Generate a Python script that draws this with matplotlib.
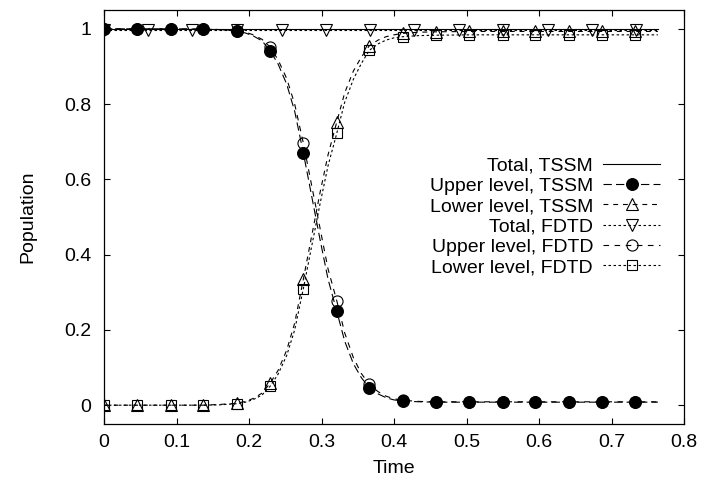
import numpy as np
import matplotlib
matplotlib.use("Agg")
import matplotlib.pyplot as plt
from matplotlib.ticker import FuncFormatter, MultipleLocator

# ---------------- data ----------------
t_line = [0.0, 0.046, 0.092, 0.137, 0.160, 0.183, 0.195, 0.206, 0.218, 0.229,
          0.240, 0.252, 0.263, 0.275, 0.286, 0.298, 0.309, 0.321, 0.332, 0.344,
          0.355, 0.366, 0.378, 0.389, 0.400, 0.412, 0.435, 0.458, 0.504, 0.550,
          0.595, 0.641, 0.687, 0.733, 0.764]

t_marks = [0.0, 0.046, 0.092, 0.137, 0.183, 0.229, 0.275, 0.321, 0.366, 0.412,
           0.458, 0.504, 0.550, 0.595, 0.641, 0.687, 0.733]

upper_tssm = [1.000, 1.000, 1.000, 0.999, 0.998, 0.994, 0.989, 0.981, 0.968, 0.942,
              0.907, 0.853, 0.781, 0.670, 0.560, 0.440, 0.335, 0.250, 0.170, 0.110,
              0.073, 0.046, 0.030, 0.020, 0.014, 0.011, 0.009, 0.008, 0.008, 0.008,
              0.008, 0.008, 0.008, 0.008, 0.008]

lower_tssm = [0.000, 0.000, 0.000, 0.000, 0.002, 0.005, 0.010, 0.018, 0.032, 0.058,
              0.092, 0.146, 0.218, 0.335, 0.445, 0.565, 0.665, 0.752, 0.830, 0.888,
              0.925, 0.955, 0.970, 0.979, 0.984, 0.988, 0.991, 0.992, 0.993, 0.993,
              0.993, 0.993, 0.993, 0.993, 0.993]

upper_fdtd = [1.000, 1.000, 1.000, 0.999, 0.998, 0.995, 0.991, 0.984, 0.972, 0.952,
              0.918, 0.868, 0.800, 0.696, 0.588, 0.470, 0.362, 0.278, 0.192, 0.126,
              0.084, 0.055, 0.036, 0.024, 0.017, 0.013, 0.010, 0.009, 0.009, 0.009,
              0.009, 0.009, 0.009, 0.009, 0.009]

lower_fdtd = [0.000, 0.000, 0.000, 0.000, 0.001, 0.004, 0.008, 0.015, 0.027, 0.050,
              0.082, 0.132, 0.200, 0.310, 0.418, 0.535, 0.636, 0.722, 0.805, 0.866,
              0.908, 0.943, 0.960, 0.970, 0.976, 0.979, 0.982, 0.983, 0.984, 0.984,
              0.984, 0.984, 0.984, 0.984, 0.984]

t_total = [0.0, 0.764]
total_tssm = [1.000, 1.000]

t_total_fdtd = [0.0, 0.061, 0.122, 0.184, 0.245, 0.306, 0.367, 0.428, 0.489,
                0.551, 0.612, 0.673, 0.734, 0.764]
total_fdtd = [0.997] * 14
total_fdtd_marks = list(range(13))

x_ticks = [0, 0.1, 0.2, 0.3, 0.4, 0.5, 0.6, 0.7, 0.8]
y_ticks = [0, 0.2, 0.4, 0.6, 0.8, 1.0]

labels = ["Total, TSSM", "Upper level, TSSM", "Lower level, TSSM",
          "Total, FDTD", "Upper level, FDTD", "Lower level, FDTD"]

# ---------------- plot ----------------
plt.rcParams['font.family'] = ['Liberation Sans', 'DejaVu Sans']
plt.rcParams['lines.scale_dashes'] = False
FS = 14

fig = plt.figure(figsize=(7.04, 4.86), dpi=100)
ax = fig.add_axes([104/704, 1-424/486, 580/704, 414/486])

mark_idx = [i for i, t in enumerate(t_line) if t in t_marks]
lw = 0.8
mew = 0.8

ax.plot(t_total, total_tssm, color='black', lw=lw, label=labels[0])
ax.plot(t_line, upper_tssm, color='black', lw=lw, dashes=(6, 3),
        marker='o', ms=8.5, mfc='black', mec='black', mew=mew,
        markevery=mark_idx, label=labels[1])
ax.plot(t_line, lower_tssm, color='black', lw=lw, dashes=(3.5, 3.5),
        marker='^', ms=9, mfc='none', mec='black', mew=mew,
        markevery=mark_idx, label=labels[2])
ax.plot(t_total_fdtd, total_fdtd, color='black', lw=lw, dashes=(1.8, 1.8),
        marker='v', ms=9, mfc='none', mec='black', mew=mew,
        markevery=total_fdtd_marks, label=labels[3])
ax.plot(t_line, upper_fdtd, color='black', lw=lw, dashes=(4, 4),
        marker='o', ms=8, mfc='none', mec='black', mew=mew,
        markevery=mark_idx, label=labels[4])
ax.plot(t_line, lower_fdtd, color='black', lw=lw, dashes=(1.8, 1.8),
        marker='s', ms=7, mfc='none', mec='black', mew=mew,
        markevery=mark_idx, label=labels[5])

ax.set_xlim(0, 0.8)
ax.set_ylim(-0.05, 1.05)
ax.set_xticks(x_ticks)
ax.set_yticks(y_ticks)
fmt = FuncFormatter(lambda v, p: '%g' % round(v, 6))
ax.xaxis.set_major_formatter(fmt)
ax.yaxis.set_major_formatter(fmt)
ax.tick_params(direction='in', length=4.5, width=0.8, top=True, right=True,
               labelsize=FS)
ax.tick_params(axis='x', pad=7.5)
ax.tick_params(axis='y', pad=9)
for s in ax.spines.values():
    s.set_linewidth(0.9)

ax.set_xlabel('Time', fontsize=FS, labelpad=6.5)
ax.set_ylabel('Population', fontsize=FS, labelpad=20)

leg = ax.legend(loc='upper right', bbox_to_anchor=(660/704, 1-157/486),
                bbox_transform=fig.transFigure, frameon=False, fontsize=FS,
                markerfirst=False, numpoints=1, handlelength=2.93,
                handletextpad=0.51, labelspacing=0.14, borderpad=0,
                borderaxespad=0)

fig.savefig('out.png', dpi=100)
